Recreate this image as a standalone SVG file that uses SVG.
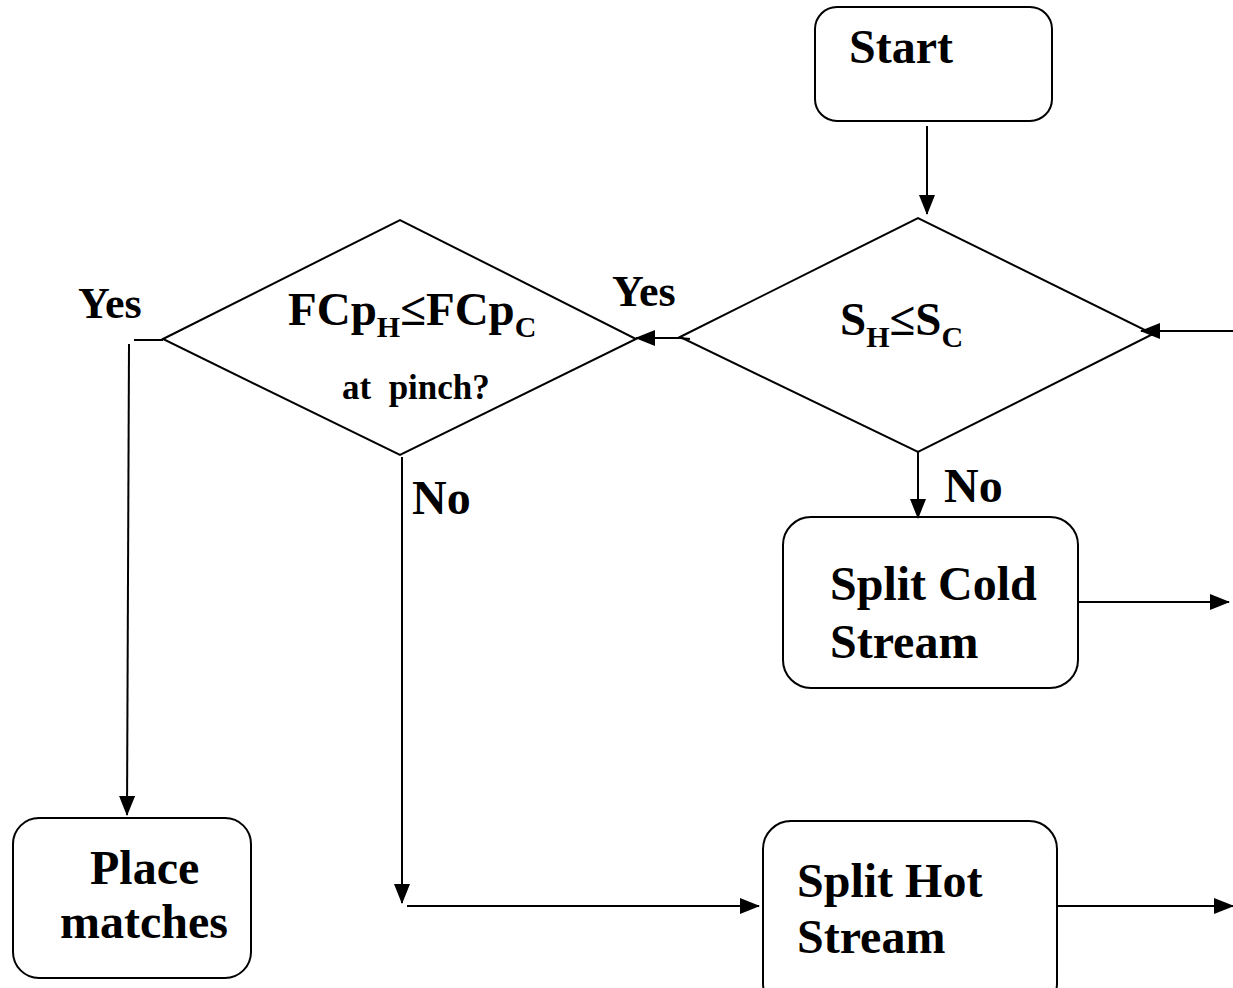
<svg xmlns="http://www.w3.org/2000/svg" width="1233" height="988" viewBox="0 0 1233 988">
<style>
.box{fill:#fff;stroke:#000;stroke-width:2}
text{font-family:'Liberation Serif','Times New Roman',Times,serif;font-weight:700;fill:#000}
.big{font-size:48px}
.lbl{font-size:44px}
.c{fill:none;stroke:#000;stroke-width:2}
</style>
<defs>
<marker id="ah" markerUnits="userSpaceOnUse" markerWidth="20" markerHeight="16" refX="19" refY="8" orient="auto">
<path d="M0,0 L20,8 L0,16 Z" fill="#000"/>
</marker>
</defs>
<rect width="1233" height="988" fill="#fff"/>
<g id="start">
<rect class="box" x="815" y="7" width="237" height="114" rx="22"/>
<text class="big" x="849" y="63">Start</text>
</g>
<g id="dec-split">
<polygon class="box" points="680,337 918,218 1153,334 918,452"/>
<text x="840" y="335" font-size="47">S<tspan font-size="30" dy="12">H</tspan><tspan dy="-12">≤</tspan>S<tspan font-size="30" dy="12">C</tspan></text>
</g>
<g id="dec-fcp">
<polygon class="box" points="163,339 400,220 636,339 400,455"/>
<text x="288" y="325" font-size="47">FCp<tspan font-size="30" dy="12">H</tspan><tspan dy="-12">≤</tspan>FCp<tspan font-size="30" dy="12">C</tspan></text>
<text x="342" y="399" font-size="35" xml:space="preserve">at  pinch?</text>
</g>
<g id="split-cold">
<rect class="box" x="783" y="517" width="295" height="171" rx="28"/>
<text class="big" x="830" y="600">Split Cold</text>
<text class="big" x="830" y="658">Stream</text>
</g>
<g id="split-hot">
<rect class="box" x="763" y="821" width="294" height="190" rx="28"/>
<text class="big" x="797" y="897">Split Hot</text>
<text class="big" x="797" y="953">Stream</text>
</g>
<g id="place">
<rect class="box" x="13" y="818" width="238" height="160" rx="26"/>
<text class="big" x="90" y="884">Place</text>
<text class="big" x="60" y="938">matches</text>
</g>
<g id="connectors">
<line class="c" x1="927" y1="126" x2="927" y2="214" marker-end="url(#ah)"/>
<line class="c" x1="1233" y1="331" x2="1141" y2="331" marker-end="url(#ah)"/>
<polyline class="c" points="690,339 680,338 636,338" marker-end="url(#ah)"/>
<line class="c" x1="918" y1="452" x2="918" y2="518" marker-end="url(#ah)"/>
<line class="c" x1="1078" y1="602" x2="1229" y2="602" marker-end="url(#ah)"/>
<line class="c" x1="1057" y1="906" x2="1233" y2="906" marker-end="url(#ah)"/>
<line class="c" x1="402" y1="457" x2="402" y2="903" marker-end="url(#ah)"/>
<line class="c" x1="407" y1="906" x2="759" y2="906" marker-end="url(#ah)"/>
<line class="c" x1="163" y1="340" x2="134" y2="340"/>
<line class="c" x1="129" y1="344" x2="127" y2="815" marker-end="url(#ah)"/>
<text class="lbl" x="612" y="306">Yes</text>
<text class="lbl" x="78" y="318">Yes</text>
<text class="big" x="944" y="502">No</text>
<text class="big" x="412" y="514">No</text>
</g>
</svg>
